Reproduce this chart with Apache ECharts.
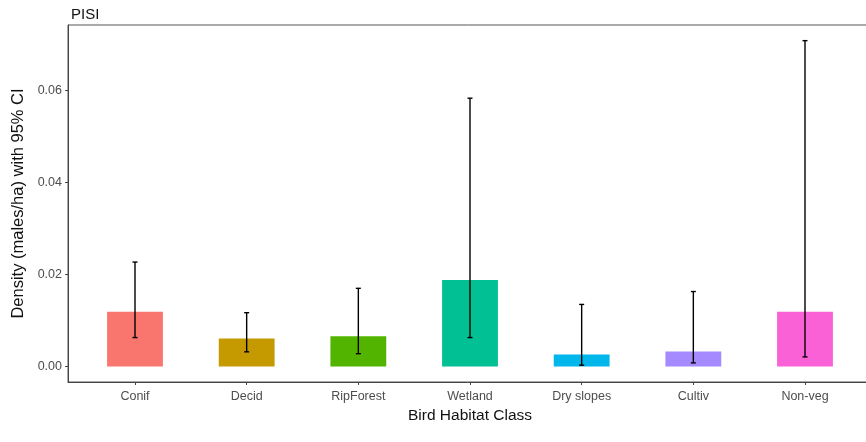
<!DOCTYPE html>
<html>
<head>
<meta charset="utf-8">
<script src="https://cdn.jsdelivr.net/npm/echarts@6/dist/echarts.min.js"></script>
<style>
  html, body { margin: 0; padding: 0; background: #fff; }
  #chart { width: 866px; height: 442px; }
</style>
</head>
<body>
<div id="chart"></div>
<script>
// Habitat classes and density estimates (males/ha) with 95% confidence limits
const categories = ['Conif', 'Decid', 'RipForest', 'Wetland', 'Dry slopes', 'Cultiv', 'Non-veg'];
const density = [0.0119, 0.0061, 0.0066, 0.0188, 0.0026, 0.0033, 0.0119];
const lowerCI = [0.0063, 0.0032, 0.0028, 0.0063, 0.0003, 0.0008, 0.0021];
const upperCI = [0.0227, 0.0117, 0.0170, 0.0583, 0.0135, 0.0163, 0.0708];
const colors = ['#F8766D', '#C49A00', '#53B400', '#00C094', '#00B6EB', '#A58AFF', '#FB61D7'];
const yTicks = [0, 0.02, 0.04, 0.06];

const positions = categories.map((_, i) => i + 1);
const barData = positions.map((x, i) => [x, density[i], i]);
const errData = positions.map((x, i) => [x, lowerCI[i], upperCI[i], i]);

const chart = echarts.init(document.getElementById('chart'));
chart.setOption({
  animation: false,
  backgroundColor: '#ffffff',
  title: {
    text: 'PISI',
    left: 66, top: 2,
    textStyle: { fontFamily: 'Liberation Sans, Arial', fontSize: 15, fontWeight: 'normal', color: '#111' }
  },
  grid: {
    left: 68, top: 25, width: 804, height: 357,
    outerBoundsMode: 'none',
    containLabel: false,
    show: true, borderColor: '#555', borderWidth: 1, backgroundColor: '#fff'
  },
  xAxis: {
    type: 'value',
    min: 0.4, max: 7.6,
    name: 'Bird Habitat Class',
    nameLocation: 'middle',
    nameGap: 22,
    nameTextStyle: { fontFamily: 'Liberation Sans, Arial', fontSize: 15.5, color: '#111' },
    axisLine: { show: true, onZero: false, lineStyle: { color: '#444', width: 1 } },
    axisTick: { show: true, customValues: positions, length: 3, lineStyle: { color: '#444' } },
    axisLabel: {
      customValues: positions,
      margin: 8,
      fontFamily: 'Liberation Sans, Arial', fontSize: 12.5, color: '#4d4d4d',
      formatter: v => categories[Math.round(v) - 1] || ''
    },
    splitLine: { show: false }
  },
  yAxis: {
    type: 'value',
    min: -0.00335, max: 0.0742,
    name: 'Density (males/ha) with 95% CI',
    nameLocation: 'middle',
    nameGap: 35,
    nameTextStyle: { fontFamily: 'Liberation Sans, Arial', fontSize: 16.5, color: '#111' },
    axisLine: { show: true, onZero: false, lineStyle: { color: '#444', width: 1 } },
    axisTick: { show: true, customValues: yTicks, length: 3, lineStyle: { color: '#444' } },
    axisLabel: {
      customValues: yTicks,
      margin: 6,
      fontFamily: 'Liberation Sans, Arial', fontSize: 12.5, color: '#4d4d4d',
      formatter: v => v.toFixed(2)
    },
    splitLine: { show: false }
  },
  series: [
    {
      type: 'custom',
      name: 'density',
      data: barData,
      encode: { x: 0, y: 1 },
      renderItem: (params, api) => {
        const x = api.value(0), y = api.value(1), idx = api.value(2);
        const top = api.coord([x, y]);
        const base = api.coord([x, 0]);
        const w = api.size([0.5, 0])[0];
        return {
          type: 'rect',
          shape: { x: top[0] - w / 2, y: top[1], width: w, height: base[1] - top[1] },
          style: { fill: colors[idx] }
        };
      },
      z: 2
    },
    {
      type: 'custom',
      name: 'ci',
      data: errData,
      encode: { x: 0, y: [1, 2] },
      renderItem: (params, api) => {
        const x = api.value(0);
        const lo = api.coord([x, api.value(1)]);
        const hi = api.coord([x, api.value(2)]);
        const cap = 2.5;
        const st = { stroke: '#000', lineWidth: 1.4 };
        return {
          type: 'group',
          children: [
            { type: 'line', shape: { x1: lo[0], y1: lo[1], x2: hi[0], y2: hi[1] }, style: st },
            { type: 'line', shape: { x1: hi[0] - cap, y1: hi[1], x2: hi[0] + cap, y2: hi[1] }, style: st },
            { type: 'line', shape: { x1: lo[0] - cap, y1: lo[1], x2: lo[0] + cap, y2: lo[1] }, style: st }
          ]
        };
      },
      z: 3
    }
  ]
});
</script>
</body>
</html>
